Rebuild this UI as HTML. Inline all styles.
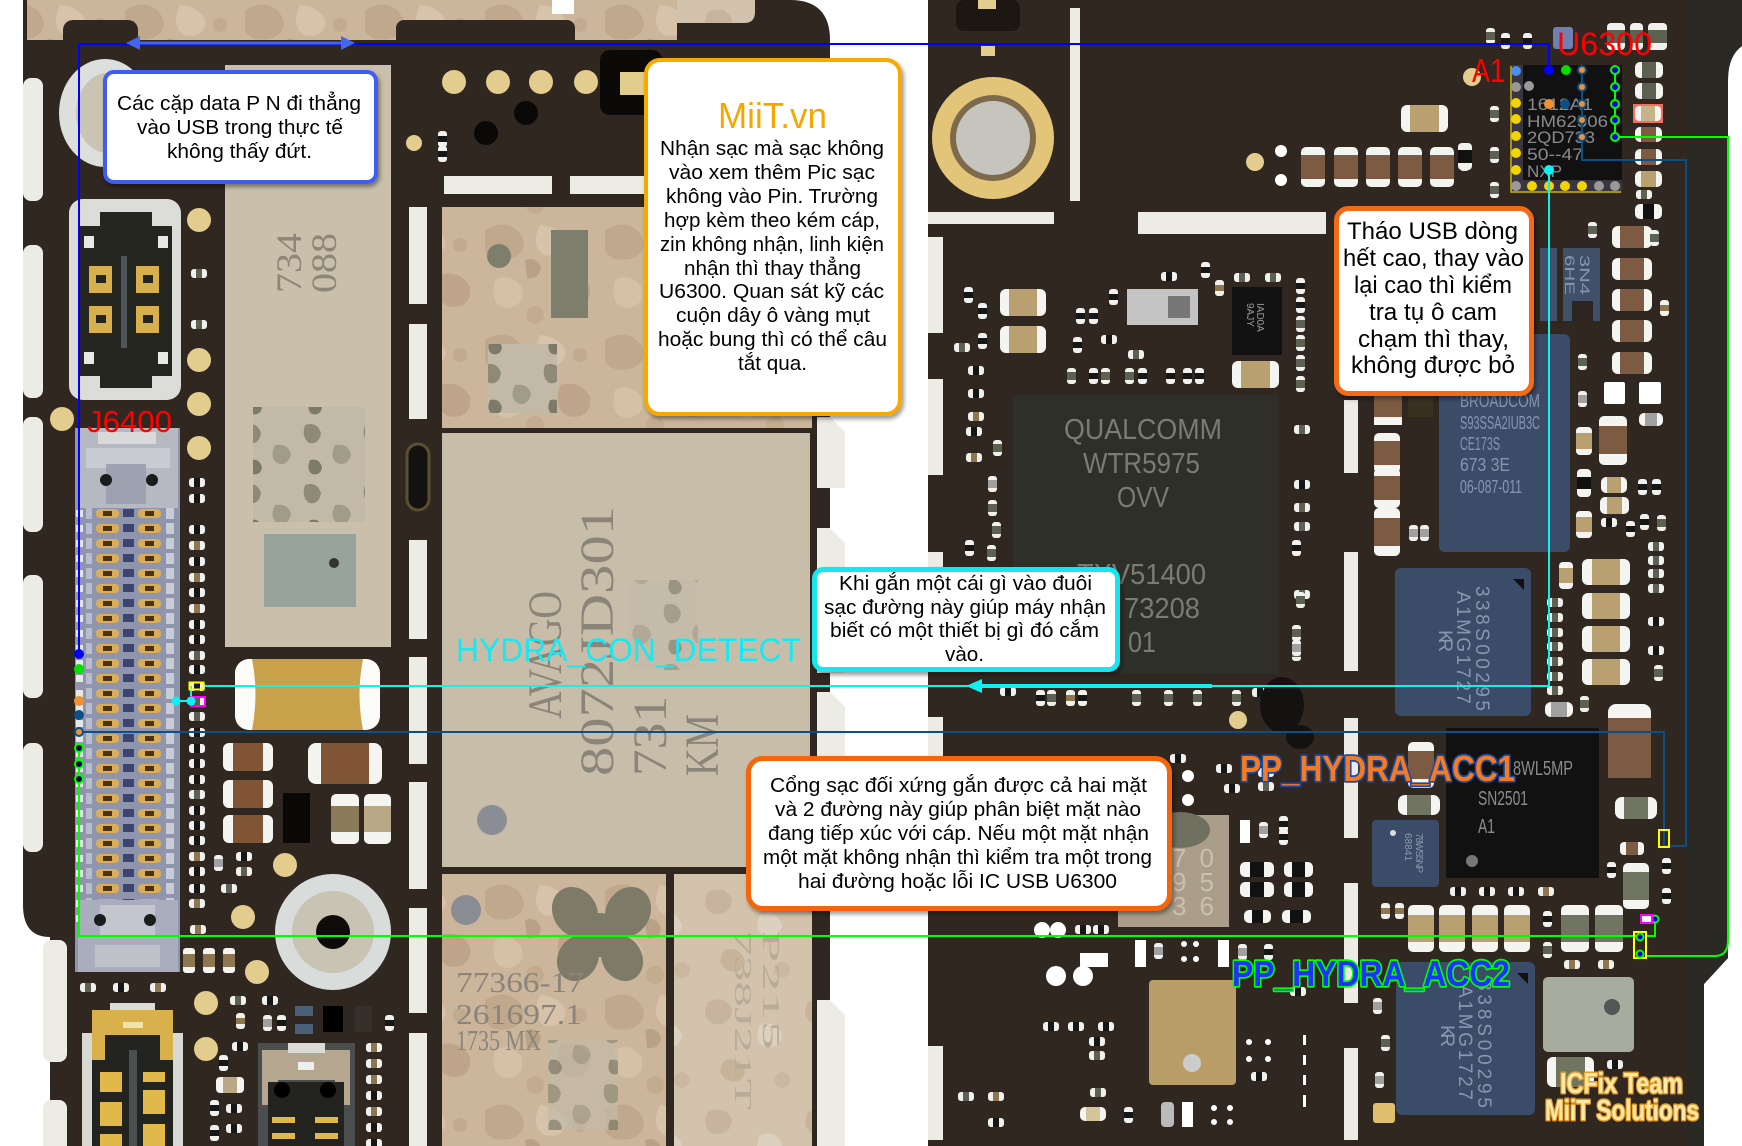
<!DOCTYPE html>
<html><head><meta charset="utf-8"><title>HYDRA USB</title>
<style>
html,body{margin:0;padding:0;background:#fff;width:1742px;height:1146px;overflow:hidden}
svg{display:block}
text{font-family:"Liberation Sans","DejaVu Sans",sans-serif}
.s{font-family:"Liberation Serif","DejaVu Serif",serif}
</style></head><body>
<svg xmlns="http://www.w3.org/2000/svg" width="1742" height="1146" viewBox="0 0 1742 1146">
<defs>
<filter id="sh" x="-10%" y="-10%" width="130%" height="130%"><feDropShadow dx="2" dy="3" stdDeviation="2" flood-color="#000" flood-opacity="0.4"/></filter>
<pattern id="camo" width="120" height="110" patternUnits="userSpaceOnUse">
<rect width="120" height="110" fill="#cbb69c"/>
<path d="M5 10q20-12 34 2q12 16-6 26q-22 6-28-8z" fill="#c0a88d"/>
<path d="M60 5q22 2 26 18q-4 16-22 12q-14-8-4-30z" fill="#d6c3aa"/>
<path d="M80 55q20-6 30 12q2 20-18 20q-20-4-12-32z" fill="#bea58a"/>
<path d="M15 60q14-8 26 6q6 18-12 22q-20 0-14-28z" fill="#d4c1a6"/>
<path d="M45 40q12-4 16 8q-2 12-14 10z" fill="#b9a186"/>
<circle cx="100" cy="25" r="7" fill="#c2aa8f"/><circle cx="55" cy="95" r="9" fill="#c3ab90"/>
</pattern>
<pattern id="camoL" width="100" height="110" patternUnits="userSpaceOnUse">
<rect width="100" height="110" fill="#d3c3ad"/>
<path d="M8 12q18-8 24 8q-2 16-18 14q-14-6-6-22z" fill="#c8b49c"/>
<path d="M60 35q16-6 22 10q-2 14-16 12q-14-6-6-22z" fill="#dcd0bf"/>
<path d="M25 70q16-4 20 12q-4 14-18 8q-12-8-2-20z" fill="#c7b29a"/>
<circle cx="82" cy="90" r="8" fill="#cbb8a0"/>
</pattern>
<pattern id="camoG" width="60" height="60" patternUnits="userSpaceOnUse">
<rect width="60" height="60" fill="#c2baa7"/>
<path d="M5 5q12-4 16 8q-2 12-12 10q-8-6-4-18z" fill="#8e8a76"/>
<path d="M35 25q14-2 16 10q-4 12-14 8q-8-6-2-18z" fill="#a19c88"/>
<path d="M10 40q10-2 12 8q-2 8-10 6q-6-4-2-14z" fill="#7c7a68"/>
</pattern>
<pattern id="beads" x="0" y="506" width="200" height="15" patternUnits="userSpaceOnUse">
<rect x="0" y="0" width="200" height="15" fill="#8f95ad"/>
<rect x="96" y="3" width="23" height="9" rx="4" fill="#d9ae57"/>
<rect x="103" y="5" width="9" height="5" fill="#4a3212"/>
<rect x="138" y="3" width="23" height="9" rx="4" fill="#d9ae57"/>
<rect x="145" y="5" width="9" height="5" fill="#4a3212"/>
<rect x="123" y="3" width="11" height="8" fill="#3e4470"/>
<rect x="76" y="4" width="7" height="7" fill="#e6e6e6"/>
<rect x="86" y="2" width="6" height="11" fill="#b8bccc"/>
<rect x="166" y="2" width="8" height="11" fill="#c8ccd6"/>
</pattern>
<g id="ph"><rect width="16" height="9" rx="3" fill="#f0f0ec"/><rect x="5" width="6" height="9" fill="#161616"/></g>
<g id="pht"><rect width="16" height="9" rx="3" fill="#f0f0ec"/><rect x="5" width="6" height="9" fill="#8d7650"/></g>
<g id="phg"><rect width="16" height="9" rx="3" fill="#f0f0ec"/><rect x="5" width="6" height="9" fill="#5d6152"/></g>
<g id="pv"><rect width="9" height="16" rx="3" fill="#f0f0ec"/><rect y="5" width="9" height="6" fill="#161616"/></g>
<g id="pvt"><rect width="9" height="16" rx="3" fill="#f0f0ec"/><rect y="5" width="9" height="6" fill="#8d7650"/></g>
<g id="pvg"><rect width="9" height="16" rx="3" fill="#f0f0ec"/><rect y="4" width="9" height="8" fill="#5d6152"/></g>
<g id="pvs"><rect width="9" height="16" rx="3" fill="#f0f0ec"/><rect y="4" width="9" height="8" fill="#a0a0a0"/></g>
<g id="cb"><rect width="40" height="22" rx="6" fill="#f4f4f0"/><rect x="8" width="24" height="22" fill="#7d5b43"/></g>
<g id="ct"><rect width="48" height="26" rx="6" fill="#f4f4f0"/><rect x="10" width="28" height="26" fill="#b9a070"/></g>
<g id="cbv"><rect width="24" height="40" rx="5" fill="#f4f4f0"/><rect y="8" width="24" height="24" fill="#7d5b43"/></g>
<g id="ctv"><rect width="24" height="40" rx="5" fill="#f4f4f0"/><rect y="8" width="24" height="24" fill="#b9a070"/></g>
<g id="cgv"><rect width="26" height="46" rx="5" fill="#f4f4f0"/><rect y="9" width="26" height="28" fill="#6f7560"/></g>
</defs>

<!-- ============ LEFT BOARD ============ -->
<path d="M23,0 H790 Q830,0 830,40 V1146 H50 V937 Q23,937 23,905 Z" fill="#2f2720"/>
<rect x="27" y="0" width="650" height="40" fill="url(#camo)"/>
<path d="M677,0 H755 V12 Q755,23 744,23 H677 Z" fill="url(#camoL)"/>
<rect x="63" y="20" width="75" height="30" rx="10" fill="#2f2720"/>
<rect x="396" y="20" width="179" height="30" rx="8" fill="#2f2720"/>
<rect x="552" y="0" width="22" height="14" fill="#fff"/>

<g fill="#ecebe4">
<rect x="23" y="78" width="20" height="123" rx="8"/>
<rect x="23" y="245" width="20" height="153" rx="8"/>
<rect x="23" y="417" width="20" height="115" rx="8"/>
<rect x="23" y="575" width="20" height="123" rx="8"/>
<rect x="23" y="743" width="20" height="109" rx="8"/>
<rect x="43" y="940" width="24" height="122" rx="8"/>
<rect x="43" y="1100" width="24" height="60" rx="8"/>
<path d="M817,417 H830 L845,432 V488 H817 Z"/>
<path d="M817,528 H830 L845,543 V673 H817 Z"/>
<path d="M817,692 H830 L845,707 V770 H817 Z"/>
<path d="M817,1000 H830 L845,1015 V1146 H817 Z"/>
</g>

<ellipse cx="105" cy="113" rx="46" ry="54" fill="#dcdfdc"/>
<ellipse cx="108" cy="113" rx="32" ry="40" fill="#c9c4b3"/>

<rect x="225" y="65" width="166" height="582" fill="#c9bfab"/>
<rect x="253" y="407" width="112" height="115" fill="url(#camoG)"/>
<text class="s" transform="translate(301,293) rotate(-90)" font-size="36" fill="#8e8677" textLength="60" lengthAdjust="spacingAndGlyphs">734</text>
<text class="s" transform="translate(336,293) rotate(-90)" font-size="36" fill="#8e8677" textLength="60" lengthAdjust="spacingAndGlyphs">088</text>
<rect x="264" y="534" width="92" height="73" fill="#98a49b"/>
<circle cx="334" cy="563" r="5" fill="#333"/>

<!-- battery connector -->
<rect x="69" y="199" width="112" height="201" rx="14" fill="#dcdcd8"/>
<rect x="80" y="226" width="92" height="150" fill="#262621"/>
<rect x="100" y="212" width="52" height="14" fill="#262621"/>
<rect x="100" y="376" width="52" height="12" fill="#262621"/>
<rect x="84" y="236" width="10" height="12" fill="#e8e8e6"/><rect x="158" y="236" width="10" height="12" fill="#e8e8e6"/>
<rect x="84" y="352" width="10" height="12" fill="#e8e8e6"/><rect x="158" y="352" width="10" height="12" fill="#e8e8e6"/>
<g fill="#d5b04c"><rect x="89" y="266" width="23" height="27"/><rect x="136" y="266" width="23" height="27"/><rect x="89" y="306" width="23" height="27"/><rect x="136" y="306" width="23" height="27"/></g>
<g fill="#262621"><rect x="96" y="275" width="10" height="8"/><rect x="143" y="275" width="10" height="8"/><rect x="96" y="315" width="10" height="8"/><rect x="143" y="315" width="10" height="8"/></g>
<rect x="121" y="256" width="6" height="92" fill="#4d5558"/>

<g fill="#e3cd8e">
<circle cx="199" cy="220" r="12"/><circle cx="199" cy="360" r="12"/><circle cx="199" cy="404" r="12"/><circle cx="199" cy="448" r="12"/><circle cx="62" cy="419" r="12"/>
<circle cx="454" cy="82" r="12"/><circle cx="498" cy="82" r="12"/><circle cx="541" cy="82" r="12"/><circle cx="586" cy="82" r="12"/>
<circle cx="414" cy="143" r="8"/>
<circle cx="285" cy="865" r="12"/><circle cx="243" cy="917" r="12"/><circle cx="257" cy="972" r="12"/><circle cx="206" cy="1003" r="12"/><circle cx="206" cy="1049" r="12"/>
</g>
<use href="#phg" x="191" y="269"/><use href="#phg" x="191" y="320"/>

<!-- J6400 connector -->
<rect x="75" y="428" width="105" height="544" fill="#8f95ad"/>
<rect x="75" y="506" width="105" height="420" fill="url(#beads)"/>
<rect x="78" y="428" width="100" height="80" fill="#b6b9c2"/>
<rect x="98" y="432" width="58" height="12" fill="#d9d9d9"/>
<rect x="86" y="448" width="84" height="20" fill="#c9cbd2"/>
<rect x="106" y="464" width="40" height="40" fill="#9ea2b0"/>
<circle cx="106" cy="480" r="6" fill="#1c1c1c"/><circle cx="152" cy="480" r="6" fill="#1c1c1c"/>
<rect x="78" y="900" width="100" height="72" fill="#a9adbd"/>
<rect x="100" y="905" width="55" height="30" fill="#c4c6cf"/>
<circle cx="100" cy="920" r="6" fill="#1c1c1c"/><circle cx="150" cy="920" r="6" fill="#1c1c1c"/>
<rect x="95" y="945" width="65" height="22" fill="#bfc1c9"/>

<!-- pills column right of connector -->
<use href="#ph" x="189" y="478"/><use href="#ph" x="189" y="494"/><use href="#ph" x="189" y="525"/><use href="#pht" x="189" y="541"/><use href="#ph" x="189" y="557"/><use href="#pht" x="189" y="573"/><use href="#ph" x="189" y="588"/><use href="#pht" x="189" y="604"/><use href="#ph" x="189" y="620"/><use href="#ph" x="189" y="635"/><use href="#phg" x="189" y="651"/><use href="#ph" x="189" y="665"/><use href="#ph" x="189" y="682"/><use href="#phg" x="189" y="697"/><use href="#phg" x="189" y="712"/><use href="#ph" x="189" y="728"/><use href="#ph" x="189" y="744"/><use href="#ph" x="189" y="759"/><use href="#ph" x="189" y="775"/><use href="#phg" x="189" y="790"/><use href="#ph" x="189" y="806"/><use href="#ph" x="189" y="821"/><use href="#ph" x="189" y="836"/><use href="#pht" x="189" y="852"/><use href="#ph" x="189" y="867"/><use href="#ph" x="189" y="884"/><use href="#pht" x="189" y="899"/>

<!-- white strips -->
<g fill="#ecebe4">
<rect x="409" y="207" width="18" height="97"/><rect x="409" y="324" width="18" height="95"/><rect x="409" y="540" width="18" height="99"/><rect x="409" y="657" width="18" height="107"/><rect x="409" y="782" width="18" height="107"/><rect x="409" y="908" width="18" height="105"/><rect x="409" y="1033" width="18" height="113"/>
<rect x="444" y="176" width="108" height="18"/><rect x="570" y="176" width="75" height="18"/>
</g>
<rect x="407" y="444" width="22" height="66" rx="11" fill="#141210" stroke="#5a5030" stroke-width="3"/>

<rect x="600" y="50" width="62" height="65" rx="10" fill="#0c0a08"/>
<rect x="620" y="72" width="25" height="23" fill="#e3cd8e"/>
<circle cx="526" cy="113" r="12" fill="#0a0908"/><circle cx="486" cy="133" r="12" fill="#0a0908"/>
<use href="#pv" x="438" y="131"/><use href="#pv" x="438" y="146"/>

<!-- camo chip & AVAGO -->
<rect x="442" y="207" width="370" height="221" fill="url(#camo)"/>
<rect x="551" y="230" width="37" height="88" fill="#7d7f6c"/>
<circle cx="499" cy="256" r="12" fill="#7d7f6c"/>
<rect x="488" y="344" width="69" height="69" fill="url(#camoG)"/>
<rect x="442" y="433" width="368" height="434" fill="#c8bda9"/>
<g class="s" fill="#8b8579" font-size="48">
<text class="s" transform="translate(561,719) rotate(-90)" textLength="128" lengthAdjust="spacingAndGlyphs">AVAGO</text>
<text class="s" transform="translate(613,776) rotate(-90)" textLength="270" lengthAdjust="spacingAndGlyphs">8072JD301</text>
<text class="s" transform="translate(666,776) rotate(-90)" textLength="80" lengthAdjust="spacingAndGlyphs">731</text>
<text class="s" transform="translate(718,776) rotate(-90)" textLength="62" lengthAdjust="spacingAndGlyphs">KM</text>
</g>
<rect x="628" y="580" width="70" height="90" fill="url(#camoG)" opacity="0.6"/>
<circle cx="492" cy="820" r="15" fill="#8b8d95"/>

<!-- lower chips -->
<rect x="442" y="874" width="224" height="272" fill="url(#camo)"/>
<rect x="674" y="874" width="138" height="272" fill="url(#camoL)"/>
<g fill="#7d7a68">
<ellipse cx="575" cy="912" rx="22" ry="26" transform="rotate(-30 575 912)"/>
<ellipse cx="628" cy="912" rx="22" ry="26" transform="rotate(30 628 912)"/>
<ellipse cx="578" cy="958" rx="20" ry="24" transform="rotate(30 578 958)"/>
<ellipse cx="622" cy="958" rx="20" ry="24" transform="rotate(-30 622 958)"/>
<ellipse cx="600" cy="935" rx="20" ry="22"/>
</g>
<circle cx="466" cy="910" r="15" fill="#8b8d95"/>
<rect x="548" y="1040" width="70" height="90" fill="url(#camoG)" opacity="0.7"/>
<g class="s" fill="#8a857a" font-size="28">
<text class="s" x="456" y="992" textLength="128" lengthAdjust="spacingAndGlyphs">77366-17</text>
<text class="s" x="456" y="1024" textLength="126" lengthAdjust="spacingAndGlyphs">261697.1</text>
<text class="s" x="456" y="1050" textLength="85" lengthAdjust="spacingAndGlyphs">1735  MX</text>
</g>
<g class="s" fill="#b8ac98" font-size="24">
<text class="s" transform="translate(763,930) rotate(90)" textLength="120" lengthAdjust="spacingAndGlyphs">P215</text>
<text class="s" transform="translate(735,930) rotate(90)" textLength="180" lengthAdjust="spacingAndGlyphs">738J21T</text>
</g>

<!-- caps near gold cap -->
<rect x="235" y="659" width="145" height="71" rx="14" fill="#fbfbf8"/>
<path d="M252,659 H363 Q356,694 363,730 H252 Q259,694 252,659Z" fill="#c9a14b"/>
<g><rect x="223" y="743" width="50" height="28" rx="6" fill="#f4f4f0"/><rect x="233" y="743" width="30" height="28" fill="#7f5536"/></g>
<g><rect x="223" y="780" width="50" height="28" rx="6" fill="#f4f4f0"/><rect x="233" y="780" width="30" height="28" fill="#7f5536"/></g>
<g><rect x="223" y="815" width="50" height="28" rx="6" fill="#f4f4f0"/><rect x="233" y="815" width="30" height="28" fill="#7f5536"/></g>
<g><rect x="308" y="743" width="74" height="41" rx="8" fill="#f4f4f0"/><rect x="321" y="743" width="48" height="41" fill="#7f5536"/></g>
<rect x="283" y="793" width="27" height="50" fill="#0a0806"/>
<g><rect x="331" y="794" width="28" height="50" rx="5" fill="#f4f4f0"/><rect x="331" y="806" width="28" height="26" fill="#8a7a5a"/></g>
<g><rect x="364" y="794" width="27" height="50" rx="5" fill="#f4f4f0"/><rect x="364" y="806" width="27" height="26" fill="#b9a885"/></g>
<use href="#pvs" x="214" y="855"/><use href="#ph" x="236" y="852"/><use href="#phg" x="236" y="867"/>
<use href="#phg" x="221" y="884"/><use href="#pht" x="190" y="925"/>

<!-- round -->
<circle cx="333" cy="932" r="58" fill="#d8dcda"/>
<circle cx="333" cy="932" r="41" fill="#c8c3b3"/>
<circle cx="333" cy="932" r="17" fill="#0d0c0a"/>

<!-- bottom-left parts -->
<g><rect x="183" y="948" width="12" height="25" rx="3" fill="#f4f4f0"/><rect x="183" y="954" width="12" height="13" fill="#8d7650"/></g>
<g><rect x="203" y="948" width="12" height="25" rx="3" fill="#f4f4f0"/><rect x="203" y="954" width="12" height="13" fill="#8d7650"/></g>
<g><rect x="223" y="948" width="12" height="25" rx="3" fill="#f4f4f0"/><rect x="223" y="954" width="12" height="13" fill="#8d7650"/></g>
<use href="#phg" x="80" y="983"/><use href="#ph" x="113" y="983"/><use href="#pht" x="150" y="983"/>
<use href="#phg" x="230" y="996"/><use href="#ph" x="262" y="996"/>
<use href="#pvt" x="236" y="1013"/><use href="#pvs" x="263" y="1015"/><use href="#pv" x="277" y="1015"/>
<rect x="295" y="1006" width="18" height="10" fill="#4a6278"/><rect x="295" y="1024" width="18" height="10" fill="#4a6278"/>
<rect x="323" y="1006" width="20" height="26" fill="#000"/><rect x="355" y="1006" width="17" height="26" fill="#35302a"/>
<use href="#pv" x="385" y="1015"/>
<use href="#ph" x="232" y="1042"/><use href="#pv" x="219" y="1055"/>
<g><rect x="216" y="1077" width="28" height="16" rx="4" fill="#f4f4f0"/><rect x="223" y="1077" width="14" height="16" fill="#b9a885"/></g>
<use href="#pv" x="210" y="1100"/><use href="#ph" x="226" y="1104"/><use href="#ph" x="226" y="1124"/><use href="#pv" x="210" y="1125"/>
<use href="#pht" x="366" y="1043"/><use href="#pht" x="366" y="1059"/><use href="#pht" x="366" y="1075"/><use href="#ph" x="366" y="1091"/><use href="#pht" x="366" y="1107"/><use href="#ph" x="366" y="1123"/><use href="#ph" x="366" y="1139"/>
<!-- connector 1 -->
<rect x="82" y="1033" width="101" height="113" fill="#d9d9d4"/>
<path d="M92,1015 H173 V1146 H92 Z" fill="#23231f"/>
<path d="M92,1010 H173 V1060 H160 V1035 H105 V1060 H92 Z" fill="#d8b04c"/>
<rect x="110" y="1003" width="45" height="7" fill="#dcdcd6"/>
<rect x="123" y="1022" width="20" height="6" fill="#f0e3a8"/>
<rect x="129" y="1050" width="8" height="96" fill="#4a5052"/>
<g fill="#e1b84a"><rect x="100" y="1072" width="22" height="20"/><rect x="100" y="1102" width="22" height="24"/><rect x="143" y="1072" width="22" height="10"/><rect x="143" y="1090" width="22" height="24"/><rect x="143" y="1124" width="22" height="22"/><rect x="100" y="1134" width="22" height="12"/></g>
<!-- connector 2 -->
<path d="M258,1043 H355 V1146 H258 Z" fill="#4a4e4e"/>
<path d="M262,1050 H350 V1105 H335 V1080 H278 V1105 H262 Z" fill="#b5a690"/>
<rect x="288" y="1043" width="37" height="10" fill="#dcdcd6"/>
<rect x="298" y="1062" width="16" height="8" fill="#eee"/>
<rect x="268" y="1082" width="76" height="64" fill="#23231f"/>
<circle cx="282" cy="1090" r="8" fill="#000"/><circle cx="328" cy="1090" r="8" fill="#000"/>
<g fill="#e1b84a"><rect x="272" y="1117" width="23" height="6"/><rect x="315" y="1117" width="23" height="6"/><rect x="272" y="1133" width="23" height="6"/><rect x="315" y="1133" width="23" height="6"/></g>

<!-- ============ RIGHT BOARD ============ -->
<path d="M928,0 H1742 V46 Q1728,56 1728,80 V958 L1704,984 V1146 H928 Z" fill="#2f2720"/>
<path d="M1688,0 H1742 V46 Q1728,56 1728,80 V958 L1704,984 V1146 H1688 Z" fill="#2a2924"/>
<g fill="#ecebe4">
<rect x="928" y="237" width="15" height="96"/><rect x="928" y="379" width="15" height="96"/><rect x="928" y="552" width="15" height="118"/><rect x="928" y="717" width="15" height="143"/><rect x="928" y="1046" width="15" height="94"/>
<rect x="1344" y="400" width="14" height="73"/><rect x="1344" y="552" width="14" height="119"/><rect x="1344" y="718" width="14" height="120"/><rect x="1344" y="883" width="14" height="120"/><rect x="1344" y="1048" width="14" height="92"/>
<rect x="1070" y="8" width="10" height="193"/>
<rect x="928" y="212" width="126" height="12"/><rect x="1138" y="212" width="188" height="22"/>
</g>
<rect x="956" y="0" width="64" height="31" rx="8" fill="#1d1712"/>
<rect x="978" y="0" width="18" height="9" fill="#e3cd8e"/>
<rect x="981" y="46" width="14" height="10" fill="#e3cd8e"/>
<circle cx="993" cy="138" r="61" fill="#e2c579"/>
<circle cx="993" cy="138" r="43" fill="#7d6a4c"/>
<circle cx="993" cy="138" r="37" fill="#c6c5bd"/>

<!-- cap row near top -->
<use href="#cbv" x="1301" y="147"/><use href="#cbv" x="1334" y="147"/><use href="#cbv" x="1366" y="147"/><use href="#cbv" x="1398" y="147"/><use href="#cbv" x="1430" y="147"/>
<rect x="1401" y="105" width="47" height="27" rx="6" fill="#f4f4f0"/><rect x="1410" y="105" width="29" height="27" fill="#b9a070"/>
<circle cx="1255" cy="162" r="9" fill="#e3cd8e"/>
<circle cx="1281" cy="151" r="6" fill="#fff"/><circle cx="1281" cy="180" r="6" fill="#fff"/>
<use href="#pv" x="1460" y="144"/><use href="#pv" x="1460" y="155"/>
<use href="#pvg" x="1490" y="106"/><use href="#pvg" x="1490" y="147"/><use href="#pvg" x="1490" y="182"/>
<use href="#pvg" x="1486" y="28"/><use href="#pv" x="1501" y="33"/><use href="#pv" x="1523" y="33"/>
<rect x="1553" y="27" width="20" height="22" rx="3" fill="#7080b0"/>
<rect x="1607" y="23" width="18" height="27" rx="4" fill="#f0f0ec"/><rect x="1607" y="30" width="18" height="13" fill="#5d6152"/>
<rect x="1630" y="23" width="13" height="27" rx="4" fill="#f0f0ec"/><rect x="1630" y="30" width="13" height="13" fill="#5d6152"/>
<rect x="1648" y="23" width="19" height="27" rx="4" fill="#f0f0ec"/><rect x="1648" y="30" width="19" height="13" fill="#5d6152"/>
<circle cx="1472" cy="77" r="9" fill="#e3cd8e"/>
<rect x="1458" y="143" width="14" height="27" rx="4" fill="#f0f0ec"/><rect x="1458" y="150" width="14" height="13" fill="#111"/>

<!-- U6300 right column -->
<g><rect x="1635" y="62" width="28" height="16" rx="5" fill="#f4f4f0"/><rect x="1642" y="62" width="14" height="16" fill="#5d6152"/></g>
<g><rect x="1635" y="83" width="28" height="16" rx="5" fill="#f4f4f0"/><rect x="1642" y="83" width="14" height="16" fill="#5d6152"/></g>
<rect x="1633" y="104" width="30" height="19" fill="#f07060"/><rect x="1635" y="106" width="26" height="15" rx="4" fill="#f4f4f0"/><rect x="1641" y="106" width="14" height="15" fill="#c7b38a"/>
<g><rect x="1635" y="127" width="27" height="15" rx="5" fill="#f4f4f0"/><rect x="1641" y="127" width="15" height="15" fill="#7d5b43"/></g>
<g><rect x="1635" y="149" width="27" height="16" rx="5" fill="#f4f4f0"/><rect x="1641" y="149" width="15" height="16" fill="#7d5b43"/></g>
<g><rect x="1635" y="171" width="27" height="16" rx="5" fill="#f4f4f0"/><rect x="1641" y="171" width="15" height="16" fill="#b9a070"/></g>
<use href="#phg" x="1636" y="190"/>
<g><rect x="1635" y="204" width="27" height="15" rx="5" fill="#f4f4f0"/><rect x="1643" y="204" width="11" height="15" fill="#111"/></g>
<use href="#pvg" x="1588" y="222"/>

<!-- U6300 chip -->
<rect x="1510" y="65" width="112" height="128" fill="#111"/>
<rect x="1510" y="65" width="13" height="128" fill="#3a3540"/>
<rect x="1510" y="180" width="112" height="13" fill="#3a3540"/>
<path d="M1511,66 V192 H1621" fill="none" stroke="#c8b400" stroke-width="1.5"/>
<g fill="#f2d400">
<circle cx="1516" cy="103" r="5"/><circle cx="1516" cy="119" r="5"/><circle cx="1516" cy="136" r="5"/><circle cx="1516" cy="153" r="5"/><circle cx="1516" cy="170" r="5"/>
<circle cx="1532" cy="186" r="5"/><circle cx="1549" cy="186" r="5"/><circle cx="1565" cy="186" r="5"/><circle cx="1582" cy="186" r="5"/>
</g>
<g fill="#999"><circle cx="1516" cy="87" r="5"/><circle cx="1516" cy="186" r="5"/><circle cx="1599" cy="186" r="5"/><circle cx="1615" cy="186" r="5"/><circle cx="1529" cy="86" r="5"/></g>
<circle cx="1516" cy="71" r="5" fill="#4d8ef0"/>
<g fill="#8a8a8a" font-size="17">
<text x="1527" y="110" textLength="66" lengthAdjust="spacingAndGlyphs">1612A1</text>
<text x="1527" y="127" textLength="81" lengthAdjust="spacingAndGlyphs">HM62506</text>
<text x="1527" y="143" textLength="68" lengthAdjust="spacingAndGlyphs">2QD733</text>
<text x="1527" y="160" textLength="56" lengthAdjust="spacingAndGlyphs">50--47</text>
<text x="1527" y="177" textLength="35" lengthAdjust="spacingAndGlyphs">NXP</text>
</g>

<!-- blue chips -->
<rect x="1540" y="248" width="17" height="73" fill="#3f5068"/>
<rect x="1563" y="248" width="37" height="73" fill="#3f5068"/>
<rect x="1572" y="301" width="21" height="20" fill="#2b2420"/>
<text transform="translate(1580,255) rotate(90)" font-size="14" fill="#8795b0" textLength="40" lengthAdjust="spacingAndGlyphs">3N4</text>
<text transform="translate(1565,255) rotate(90)" font-size="14" fill="#8795b0" textLength="40" lengthAdjust="spacingAndGlyphs">6HE</text>
<rect x="1439" y="334" width="131" height="218" rx="6" fill="#3b4c69"/>
<g fill="#8795b0" font-size="18">
<text x="1460" y="407" textLength="80" lengthAdjust="spacingAndGlyphs">BROADCOM</text>
<text x="1460" y="429" textLength="80" lengthAdjust="spacingAndGlyphs">S93SSA2IUB3C</text>
<text x="1460" y="450" textLength="40" lengthAdjust="spacingAndGlyphs">CE173S</text>
<text x="1460" y="471" textLength="50" lengthAdjust="spacingAndGlyphs">673   3E</text>
<text x="1460" y="493" textLength="62" lengthAdjust="spacingAndGlyphs">06-087-011</text>
</g>
<rect x="1395" y="568" width="136" height="148" rx="6" fill="#3b4c69"/>
<path d="M1513,579 L1524,579 L1524,590 Z" fill="#111"/>
<g fill="#8a96ae" font-size="19">
<text transform="translate(1476,586) rotate(90)" textLength="125" lengthAdjust="spacing">338S00295</text>
<text transform="translate(1457,591) rotate(90)" textLength="113" lengthAdjust="spacing">A1MG1727</text>
<text transform="translate(1439,630) rotate(90)" textLength="22" lengthAdjust="spacing">KR</text>
</g>
<rect x="1396" y="962" width="139" height="153" rx="6" fill="#3b4c69"/>
<path d="M1517,973 L1528,973 L1528,984 Z" fill="#111"/>
<g fill="#8a96ae" font-size="19">
<text transform="translate(1478,980) rotate(90)" textLength="128" lengthAdjust="spacing">338S00295</text>
<text transform="translate(1459,985) rotate(90)" textLength="115" lengthAdjust="spacing">A1MG1727</text>
<text transform="translate(1441,1025) rotate(90)" textLength="22" lengthAdjust="spacing">KR</text>
</g>
<rect x="1372" y="820" width="67" height="67" rx="4" fill="#3b4c69"/>
<circle cx="1393" cy="833" r="3" fill="#ddd"/>
<g fill="#8a96ae" font-size="10">
<text transform="translate(1416,833) rotate(90)" textLength="40" lengthAdjust="spacing">78WS5NP</text>
<text transform="translate(1405,833) rotate(90)" textLength="28" lengthAdjust="spacing">68841</text>
</g>

<!-- Qualcomm -->
<rect x="1013" y="395" width="265" height="278" fill="#2f2f29"/>
<g fill="#7b7b74" font-size="29">
<text x="1064" y="439" textLength="158" lengthAdjust="spacingAndGlyphs">QUALCOMM</text>
<text x="1083" y="473" textLength="117" lengthAdjust="spacingAndGlyphs">WTR5975</text>
<text x="1117" y="507" textLength="52" lengthAdjust="spacingAndGlyphs">OVV</text>
<text x="1077" y="584" textLength="129" lengthAdjust="spacingAndGlyphs">TXV51400</text>
<text x="1124" y="618" textLength="76" lengthAdjust="spacingAndGlyphs">73208</text>
<text x="1128" y="652" textLength="28" lengthAdjust="spacingAndGlyphs">01</text>
</g>
<g><rect x="1000" y="289" width="46" height="27" rx="6" fill="#f4f4f0"/><rect x="1009" y="289" width="28" height="27" fill="#b9a070"/></g>
<g><rect x="1000" y="326" width="46" height="27" rx="6" fill="#f4f4f0"/><rect x="1009" y="326" width="28" height="27" fill="#b9a070"/></g>
<rect x="1127" y="289" width="71" height="36" fill="#c4c4c4"/><rect x="1168" y="296" width="22" height="22" fill="#777"/>
<rect x="1232" y="287" width="50" height="68" fill="#121212"/>
<g fill="#9a9a9a" font-size="10"><text transform="translate(1257,303) rotate(90)">IAD0A</text><text transform="translate(1247,303) rotate(90)">9AJY</text></g>
<g><rect x="1232" y="361" width="47" height="27" rx="6" fill="#f4f4f0"/><rect x="1241" y="361" width="29" height="27" fill="#b9a070"/></g>
<use href="#pv" x="964" y="287"/><use href="#pv" x="978" y="303"/><use href="#phg" x="954" y="343"/><use href="#pv" x="978" y="333"/><use href="#ph" x="968" y="366"/><use href="#ph" x="968" y="389"/><use href="#pht" x="968" y="412"/>
<use href="#pv" x="1076" y="308"/><use href="#pv" x="1089" y="308"/><use href="#pv" x="1109" y="289"/><use href="#pv" x="1073" y="337"/><use href="#ph" x="1101" y="335"/><use href="#phg" x="1128" y="350"/>
<use href="#pvg" x="1067" y="368"/><use href="#pv" x="1089" y="368"/><use href="#pvg" x="1101" y="368"/><use href="#pvg" x="1125" y="368"/><use href="#pv" x="1138" y="368"/><use href="#pv" x="1166" y="368"/><use href="#pv" x="1183" y="368"/><use href="#pv" x="1195" y="368"/>
<use href="#ph" x="1161" y="272"/><use href="#pv" x="1201" y="262"/><use href="#pvt" x="1215" y="280"/><use href="#phg" x="1234" y="273"/><use href="#phg" x="1265" y="273"/>
<use href="#pv" x="1296" y="278"/><use href="#pv" x="1296" y="297"/><use href="#pvg" x="1296" y="316"/><use href="#pvg" x="1296" y="335"/><use href="#pvg" x="1296" y="355"/><use href="#pvg" x="1296" y="376"/>
<use href="#ph" x="966" y="427"/><use href="#pht" x="966" y="453"/><use href="#pvg" x="993" y="440"/><use href="#pvs" x="988" y="476"/><use href="#pvg" x="988" y="500"/><use href="#pvg" x="992" y="522"/><use href="#pv" x="965" y="540"/><use href="#pvg" x="987" y="545"/>
<use href="#phg" x="1294" y="425"/><use href="#ph" x="1294" y="480"/><use href="#phg" x="1294" y="503"/><use href="#phg" x="1294" y="522"/><use href="#pv" x="1292" y="540"/><use href="#phg" x="1294" y="590"/><use href="#pvg" x="1292" y="625"/><use href="#pvg" x="1292" y="645"/>
<g><rect x="1374" y="433" width="26" height="40" rx="5" fill="#f4f4f0"/><rect x="1374" y="441" width="26" height="24" fill="#7d5b43"/></g>
<g><rect x="1374" y="468" width="26" height="40" rx="5" fill="#f4f4f0"/><rect x="1374" y="476" width="26" height="24" fill="#7d5b43"/></g>
<g><rect x="1374" y="508" width="26" height="48" rx="5" fill="#f4f4f0"/><rect x="1374" y="518" width="26" height="28" fill="#7d5b43"/></g>
<rect x="1374" y="385" width="28" height="40" fill="#f4f4f0"/><rect x="1374" y="393" width="28" height="24" fill="#7d5b43"/>
<rect x="1408" y="395" width="25" height="22" fill="#3a3020"/>
<use href="#pvs" x="1409" y="525"/><use href="#pvs" x="1420" y="525"/>

<!-- right caps column -->
<use href="#cb" x="1612" y="226"/><use href="#cb" x="1612" y="258"/><use href="#cb" x="1612" y="289"/><use href="#cb" x="1612" y="320"/><use href="#cb" x="1612" y="352"/>
<rect x="1604" y="382" width="21" height="22" rx="2" fill="#fff"/><rect x="1639" y="382" width="22" height="22" rx="2" fill="#fff"/>
<g><rect x="1639" y="413" width="24" height="13" rx="5" fill="#f4f4f0"/><rect x="1645" y="413" width="12" height="13" fill="#a0a0a0"/></g>
<g><rect x="1599" y="416" width="28" height="49" rx="5" fill="#f4f4f0"/><rect x="1599" y="426" width="28" height="28" fill="#7d5b43"/></g>
<use href="#pvg" x="1578" y="354"/><use href="#pvs" x="1578" y="391"/>
<g><rect x="1576" y="427" width="16" height="28" rx="4" fill="#f4f4f0"/><rect x="1576" y="433" width="16" height="16" fill="#b9a070"/></g>
<g><rect x="1577" y="469" width="14" height="28" rx="4" fill="#f4f4f0"/><rect x="1577" y="477" width="14" height="12" fill="#111"/></g>
<g><rect x="1601" y="477" width="26" height="16" rx="5" fill="#f4f4f0"/><rect x="1607" y="477" width="14" height="16" fill="#b9a070"/></g>
<g><rect x="1600" y="497" width="29" height="17" rx="5" fill="#f4f4f0"/><rect x="1607" y="497" width="15" height="17" fill="#b9a070"/></g>
<g><rect x="1576" y="511" width="16" height="27" rx="4" fill="#f4f4f0"/><rect x="1576" y="517" width="16" height="15" fill="#b9a070"/></g>
<use href="#ph" x="1601" y="518"/><use href="#pv" x="1626" y="521"/><use href="#pv" x="1638" y="479"/><use href="#pv" x="1652" y="479"/><use href="#pv" x="1640" y="514"/><use href="#pvg" x="1657" y="515"/>
<use href="#phg" x="1648" y="542"/><use href="#phg" x="1648" y="556"/><use href="#phg" x="1648" y="569"/><use href="#phg" x="1648" y="584"/>
<use href="#ct" x="1582" y="559"/><use href="#ct" x="1582" y="593"/><use href="#ct" x="1582" y="626"/><use href="#ct" x="1582" y="659"/>
<g><rect x="1559" y="562" width="14" height="27" rx="4" fill="#f4f4f0"/><rect x="1559" y="568" width="14" height="15" fill="#b9a070"/></g>
<use href="#phg" x="1547" y="598"/><use href="#phg" x="1547" y="613"/><use href="#phg" x="1547" y="628"/><use href="#phg" x="1547" y="642"/><use href="#phg" x="1547" y="657"/><use href="#phg" x="1547" y="672"/><use href="#phg" x="1547" y="686"/>
<use href="#ph" x="1648" y="617"/><use href="#ph" x="1648" y="646"/><use href="#pvg" x="1654" y="665"/>
<g><rect x="1545" y="702" width="28" height="15" rx="6" fill="#f4f4f0"/><rect x="1551" y="702" width="16" height="15" fill="#a0a0a0"/></g>
<use href="#pvg" x="1580" y="696"/>
<g><rect x="1608" y="704" width="43" height="74" rx="8" fill="#f4f4f0"/><rect x="1608" y="718" width="43" height="60" fill="#7d5b43"/></g>
<use href="#pvg" x="1650" y="230"/><use href="#pvt" x="1660" y="300"/>

<!-- 8WL5MP -->
<rect x="1446" y="728" width="153" height="150" fill="#111"/>
<g fill="#8c8c8c" font-size="20">
<text x="1513" y="775" textLength="60" lengthAdjust="spacingAndGlyphs">8WL5MP</text>
<text x="1478" y="805" textLength="50" lengthAdjust="spacingAndGlyphs">SN2501</text>
<text x="1478" y="833" textLength="17" lengthAdjust="spacingAndGlyphs">A1</text>
</g>
<circle cx="1472" cy="861" r="6" fill="#777"/>
<g><rect x="1615" y="797" width="42" height="22" rx="7" fill="#f4f4f0"/><rect x="1624" y="797" width="24" height="22" fill="#6f7560"/></g>
<g><rect x="1620" y="842" width="24" height="13" rx="4" fill="#f4f4f0"/><rect x="1626" y="842" width="12" height="13" fill="#7d5b43"/></g>
<use href="#pv" x="1607" y="862"/><use href="#cgv" x="1623" y="863"/><use href="#pv" x="1662" y="858"/><use href="#pv" x="1662" y="888"/>
<g><rect x="1408" y="742" width="26" height="46" rx="5" fill="#f4f4f0"/><rect x="1408" y="751" width="26" height="28" fill="#7d5b43"/></g>
<g><rect x="1398" y="795" width="42" height="20" rx="7" fill="#f4f4f0"/><rect x="1407" y="795" width="24" height="20" fill="#6f7560"/></g>

<!-- middle right misc -->
<rect x="1118" y="815" width="111" height="112" fill="#aa9e8a"/>
<ellipse cx="1180" cy="830" rx="30" ry="18" fill="#6f705f"/>
<g fill="#c9c0ae" font-size="26" font-family="Liberation Mono,monospace">
<text x="1172" y="867" textLength="42" lengthAdjust="spacing">70</text>
<text x="1172" y="891" textLength="42" lengthAdjust="spacing">95</text>
<text x="1172" y="915" textLength="42" lengthAdjust="spacing">36</text>
</g>
<use href="#ph" x="1216" y="764"/><use href="#ph" x="1224" y="784"/><use href="#phg" x="1258" y="768"/><use href="#phg" x="1258" y="782"/><use href="#ph" x="1170" y="754"/>
<circle cx="1188" cy="776" r="6" fill="#fff"/><circle cx="1188" cy="800" r="6" fill="#fff"/>
<rect x="1240" y="820" width="10" height="23" fill="#fff"/><use href="#pvs" x="1259" y="822"/><use href="#pv" x="1279" y="816"/><use href="#pv" x="1279" y="829"/>
<g fill="#f4f4f0"><rect x="1240" y="862" width="34" height="15" rx="5"/><rect x="1284" y="862" width="29" height="15" rx="5"/><rect x="1240" y="882" width="34" height="15" rx="5"/><rect x="1284" y="882" width="29" height="15" rx="5"/><rect x="1244" y="910" width="27" height="13" rx="5"/><rect x="1282" y="910" width="29" height="13" rx="5"/></g>
<g fill="#111"><rect x="1250" y="862" width="14" height="15"/><rect x="1292" y="862" width="13" height="15"/><rect x="1250" y="882" width="14" height="15"/><rect x="1292" y="882" width="13" height="15"/><rect x="1252" y="910" width="11" height="13"/><rect x="1290" y="910" width="13" height="13"/></g>
<circle cx="1042" cy="930" r="8" fill="#fff"/><circle cx="1058" cy="930" r="8" fill="#fff"/><use href="#ph" x="1075" y="925"/><use href="#ph" x="1093" y="925"/>
<rect x="1135" y="940" width="11" height="27" fill="#fff"/><use href="#pvs" x="1154" y="943"/>
<g fill="#fff"><circle cx="1184" cy="944" r="3"/><circle cx="1196" cy="944" r="3"/><circle cx="1184" cy="959" r="3"/><circle cx="1196" cy="959" r="3"/></g>
<rect x="1218" y="940" width="11" height="27" fill="#fff"/><use href="#pvs" x="1238" y="944"/><use href="#pv" x="1264" y="944"/>
<rect x="1080" y="953" width="28" height="14" fill="#fff"/>
<circle cx="1056" cy="976" r="10" fill="#fff"/><circle cx="1083" cy="976" r="10" fill="#fff"/>
<use href="#ph" x="1290" y="987"/>
<use href="#ph" x="1043" y="1022"/><use href="#ph" x="1068" y="1022"/><use href="#ph" x="1098" y="1022"/><use href="#ph" x="1089" y="1037"/><use href="#phg" x="1089" y="1051"/>
<g fill="#fff"><circle cx="1249" cy="1042" r="3"/><circle cx="1268" cy="1042" r="3"/><circle cx="1249" cy="1059" r="3"/><circle cx="1268" cy="1059" r="3"/></g>
<use href="#ph" x="1251" y="1072"/>
<g fill="#fff"><rect x="1303" y="1035" width="3" height="10"/><rect x="1303" y="1055" width="3" height="10"/><rect x="1303" y="1075" width="3" height="10"/><rect x="1303" y="1095" width="3" height="12"/></g>
<rect x="1149" y="980" width="87" height="105" rx="4" fill="#b99d67"/><circle cx="1192" cy="1063" r="9" fill="#ccc"/>
<use href="#phg" x="958" y="1092"/><use href="#pht" x="988" y="1092"/><use href="#ph" x="988" y="1118"/><use href="#phg" x="1090" y="1088"/>
<g><rect x="1080" y="1107" width="26" height="14" rx="5" fill="#f4f4f0"/><rect x="1086" y="1107" width="14" height="14" fill="#d3c59a"/></g>
<use href="#pv" x="1124" y="1107"/><rect x="1161" y="1102" width="13" height="25" rx="4" fill="#bbb"/><rect x="1182" y="1102" width="11" height="25" fill="#fff"/>
<g fill="#fff"><circle cx="1214" cy="1108" r="3"/><circle cx="1230" cy="1108" r="3"/><circle cx="1214" cy="1122" r="3"/><circle cx="1230" cy="1122" r="3"/></g>
<use href="#pvs" x="1373" y="998"/><use href="#pvg" x="1381" y="1035"/><use href="#pvs" x="1375" y="1072"/><rect x="1373" y="1103" width="22" height="20" rx="3" fill="#e0c070"/>
<g><rect x="1408" y="905" width="26" height="47" rx="5" fill="#f4f4f0"/><rect x="1408" y="915" width="26" height="27" fill="#b9a070"/></g>
<g><rect x="1439" y="905" width="26" height="47" rx="5" fill="#f4f4f0"/><rect x="1439" y="915" width="26" height="27" fill="#b9a070"/></g>
<g><rect x="1472" y="905" width="26" height="47" rx="5" fill="#f4f4f0"/><rect x="1472" y="915" width="26" height="27" fill="#b9a070"/></g>
<g><rect x="1504" y="905" width="26" height="47" rx="5" fill="#f4f4f0"/><rect x="1504" y="915" width="26" height="27" fill="#b9a070"/></g>
<g><rect x="1561" y="905" width="28" height="47" rx="5" fill="#f4f4f0"/><rect x="1561" y="915" width="28" height="27" fill="#6f7560"/></g>
<g><rect x="1595" y="905" width="28" height="47" rx="5" fill="#f4f4f0"/><rect x="1595" y="915" width="28" height="27" fill="#6f7560"/></g>
<use href="#ph" x="1450" y="887"/><use href="#ph" x="1479" y="887"/><use href="#ph" x="1508" y="887"/><use href="#pht" x="1538" y="887"/>
<use href="#pv" x="1543" y="911"/><use href="#pvg" x="1543" y="942"/><use href="#pvt" x="1381" y="903"/><use href="#pvt" x="1395" y="903"/>
<use href="#pht" x="1564" y="960"/><use href="#pht" x="1598" y="960"/>
<rect x="1543" y="977" width="91" height="75" rx="5" fill="#a6ad9f"/><circle cx="1612" cy="1007" r="8" fill="#555"/>
<g><rect x="1547" y="1057" width="47" height="30" rx="6" fill="#f4f4f0"/><rect x="1556" y="1057" width="29" height="30" fill="#6f7560"/></g>
<use href="#ph" x="1607" y="1060"/>
<!-- below qualcomm row -->
<use href="#ph" x="1000" y="687"/><use href="#pv" x="1036" y="690"/><use href="#pvg" x="1047" y="690"/><use href="#pvt" x="1066" y="690"/><use href="#pv" x="1078" y="690"/><use href="#pvg" x="1132" y="690"/><use href="#pvg" x="1164" y="690"/><use href="#pvg" x="1193" y="690"/><use href="#pvg" x="1232" y="690"/><use href="#ph" x="1252" y="688"/>
<ellipse cx="1282" cy="705" rx="22" ry="28" fill="#141210"/><ellipse cx="1300" cy="737" rx="14" ry="12" fill="#141210"/>
<circle cx="1238" cy="720" r="9" fill="#e3cd8e"/>
<use href="#pvg" x="1296" y="592"/><use href="#pvs" x="1292" y="640"/>

<!-- ============ CONNECTION LINES ============ -->
<g fill="none" stroke-width="2">
<path d="M79,654 V44 H1549 V70" stroke="#0000ff"/>
<path d="M79,732 H1664 V846 H1686 V160 H1582 V70" stroke="#0b4f86"/>
<path d="M204,686 H1549 V170" stroke="#10f0f0"/>
<path d="M79,748 V936 H1636" stroke="#00ff00"/>
<path d="M1646,956 H1715 Q1728,956 1728,940 V137 H1615 V70" stroke="#00ff00"/>
<path d="M1655,919 V936 H1646" stroke="#00ff00"/>
<path d="M191,686 V701 H176" stroke="#10f0f0"/>
</g>
<path d="M980,686 H1212" stroke="#10f0f0" stroke-width="4"/>
<path d="M966,686 L982,679 L982,693 Z" fill="#10f0f0"/>
<!-- markers -->
<circle cx="79" cy="654" r="5" fill="#0000ff"/>
<circle cx="79" cy="669" r="5" fill="#00e000"/>
<circle cx="79" cy="701" r="5" fill="#f09030"/>
<circle cx="79" cy="715" r="5" fill="#0b4f86"/>
<circle cx="79" cy="732" r="4" fill="#f09030" stroke="#0b4f86" stroke-width="2"/>
<g fill="#004" stroke="#00ff00" stroke-width="2"><circle cx="79" cy="748" r="4"/><circle cx="79" cy="764" r="4"/><circle cx="79" cy="779" r="4"/></g>
<rect x="189.5" y="682.5" width="14" height="7" fill="none" stroke="#ffff00" stroke-width="2"/>
<rect x="191" y="697" width="14" height="9" fill="none" stroke="#ff00ff" stroke-width="2"/>
<circle cx="176" cy="701" r="4.5" fill="#10f0f0"/><circle cx="191" cy="701" r="4.5" fill="#10f0f0"/>
<circle cx="1549" cy="70" r="5" fill="#0000ff"/>
<circle cx="1566" cy="70" r="5" fill="#00e000"/>
<circle cx="1549" cy="104" r="5" fill="#f09030"/>
<circle cx="1565" cy="104" r="5" fill="#0b4f86"/>
<circle cx="1549" cy="170" r="5" fill="#10f0f0"/>
<g fill="#f09030" stroke="#0b4f86" stroke-width="2"><circle cx="1582" cy="70" r="4"/><circle cx="1582" cy="87" r="4"/><circle cx="1582" cy="104" r="4"/><circle cx="1582" cy="120" r="4"/><circle cx="1582" cy="137" r="4"/></g>
<g fill="#0000cc" stroke="#00ff00" stroke-width="2"><circle cx="1615" cy="70" r="4"/><circle cx="1615" cy="87" r="4"/><circle cx="1615" cy="104" r="4"/><circle cx="1615" cy="120" r="4"/><circle cx="1615" cy="137" r="4"/></g>
<rect x="1659" y="830" width="10" height="17" fill="none" stroke="#ffff00" stroke-width="2"/>
<rect x="1634" y="932" width="12" height="26" fill="none" stroke="#ffff00" stroke-width="2"/>
<g fill="#0000cc" stroke="#00ff00" stroke-width="2"><circle cx="1640" cy="937" r="3.5"/><circle cx="1640" cy="954" r="3.5"/><circle cx="1655" cy="919" r="3.5"/></g>
<rect x="1641" y="915" width="11" height="8" fill="#fff" stroke="#ff00ff" stroke-width="2"/>

<!-- double arrow -->
<path d="M136,43 H345" stroke="#4466ee" stroke-width="3"/>
<path d="M126,43 L140,36 L140,50 Z M355,43 L341,36 L341,50 Z" fill="#4466ee"/>

<!-- ============ CALLOUTS ============ -->
<rect x="105" y="72" width="271" height="110" rx="9" fill="#fff" stroke="#3f5cf2" stroke-width="4" filter="url(#sh)"/>
<g font-size="20" fill="#000">
<text x="117" y="110" textLength="244" lengthAdjust="spacingAndGlyphs">Các cặp data P N đi thẳng</text>
<text x="137" y="134" textLength="206" lengthAdjust="spacingAndGlyphs">vào USB trong thực tế</text>
<text x="167" y="158" textLength="145" lengthAdjust="spacingAndGlyphs">không thấy đứt.</text>
</g>

<rect x="646" y="60" width="254" height="354" rx="14" fill="#fff" stroke="#f7a900" stroke-width="4" filter="url(#sh)"/>
<text x="718" y="128" font-size="36" fill="#f5a700" textLength="109" lengthAdjust="spacingAndGlyphs">MiiT.vn</text>
<g font-size="20" fill="#000">
<text x="660" y="155" textLength="224" lengthAdjust="spacingAndGlyphs">Nhận sạc mà sạc không</text>
<text x="669" y="179" textLength="206" lengthAdjust="spacingAndGlyphs">vào xem thêm Pic sạc</text>
<text x="666" y="203" textLength="212" lengthAdjust="spacingAndGlyphs">không vào Pin. Trường</text>
<text x="664" y="227" textLength="216" lengthAdjust="spacingAndGlyphs">hợp kèm theo kém cáp,</text>
<text x="660" y="251" textLength="224" lengthAdjust="spacingAndGlyphs">zin không nhận, linh kiện</text>
<text x="684" y="275" textLength="177" lengthAdjust="spacingAndGlyphs">nhận thì thay thẳng</text>
<text x="659" y="298" textLength="225" lengthAdjust="spacingAndGlyphs">U6300. Quan sát kỹ các</text>
<text x="676" y="322" textLength="194" lengthAdjust="spacingAndGlyphs">cuộn dây ô vàng mụt</text>
<text x="658" y="346" textLength="229" lengthAdjust="spacingAndGlyphs">hoặc bung thì có thể câu</text>
<text x="738" y="370" textLength="69" lengthAdjust="spacingAndGlyphs">tắt qua.</text>
</g>

<rect x="1336.5" y="208.5" width="195" height="185" rx="12" fill="#fff" stroke="#f56a12" stroke-width="5" filter="url(#sh)"/>
<g font-size="24" fill="#000">
<text x="1347" y="239" textLength="171" lengthAdjust="spacingAndGlyphs">Tháo USB dòng</text>
<text x="1343" y="266" textLength="181" lengthAdjust="spacingAndGlyphs">hết cao, thay vào</text>
<text x="1354" y="293" textLength="158" lengthAdjust="spacingAndGlyphs">lại cao thì kiểm</text>
<text x="1369" y="320" textLength="128" lengthAdjust="spacingAndGlyphs">tra tụ ô cam</text>
<text x="1358" y="347" textLength="151" lengthAdjust="spacingAndGlyphs">chạm thì thay,</text>
<text x="1351" y="373" textLength="164" lengthAdjust="spacingAndGlyphs">không được bỏ</text>
</g>

<rect x="814.5" y="569.5" width="303" height="100" rx="9" fill="#fff" stroke="#19e6f2" stroke-width="5" filter="url(#sh)"/>
<g font-size="20" fill="#000">
<text x="839" y="590" textLength="253" lengthAdjust="spacingAndGlyphs">Khi gắn một cái gì vào đuôi</text>
<text x="824" y="614" textLength="282" lengthAdjust="spacingAndGlyphs">sạc đường này giúp máy nhận</text>
<text x="830" y="637" textLength="269" lengthAdjust="spacingAndGlyphs">biết có một thiết bị gì đó cắm</text>
<text x="945" y="661" textLength="39" lengthAdjust="spacingAndGlyphs">vào.</text>
</g>

<rect x="748.5" y="758.5" width="421" height="150" rx="14" fill="#fff" stroke="#f5650f" stroke-width="5" filter="url(#sh)"/>
<g font-size="20" fill="#000">
<text x="770" y="792" textLength="377" lengthAdjust="spacingAndGlyphs">Cổng sạc đối xứng gắn được cả hai mặt</text>
<text x="775" y="816" textLength="366" lengthAdjust="spacingAndGlyphs">và 2 đường này giúp phân biệt mặt nào</text>
<text x="768" y="840" textLength="381" lengthAdjust="spacingAndGlyphs">đang tiếp xúc với cáp. Nếu một mặt nhận</text>
<text x="763" y="864" textLength="389" lengthAdjust="spacingAndGlyphs">một mặt không nhận thì kiểm tra một trong</text>
<text x="798" y="888" textLength="319" lengthAdjust="spacingAndGlyphs">hai đường hoặc lỗi IC USB U6300</text>
</g>

<!-- ============ LABELS ============ -->
<text x="1557" y="55" font-size="32" fill="#ff0000" textLength="95" lengthAdjust="spacingAndGlyphs">U6300</text>
<text x="1472" y="82" font-size="33" fill="#ff0000" textLength="33" lengthAdjust="spacingAndGlyphs">A1</text>
<text x="87" y="432" font-size="31" fill="#ff0000" textLength="85" lengthAdjust="spacingAndGlyphs">J6400</text>
<text x="456" y="661" font-size="32" fill="#18e8f2" textLength="345" lengthAdjust="spacingAndGlyphs">HYDRA_CON_DETECT</text>
<text x="1240" y="781" font-size="36" font-weight="bold" fill="#f57a20" stroke="#1a4aa8" stroke-width="3.5" stroke-linejoin="round" paint-order="stroke" textLength="275" lengthAdjust="spacingAndGlyphs">PP_HYDRA_ACC1</text>
<text x="1232" y="986" font-size="36" font-weight="bold" fill="#2030ff" stroke="#00ff00" stroke-width="3.5" stroke-linejoin="round" paint-order="stroke" textLength="278" lengthAdjust="spacingAndGlyphs">PP_HYDRA_ACC2</text>
<text x="1560" y="1093" font-size="29" font-weight="bold" fill="#ffeaa5" stroke="#e39a2c" stroke-width="3" stroke-linejoin="round" paint-order="stroke" textLength="123" lengthAdjust="spacingAndGlyphs">ICFix Team</text>
<text x="1545" y="1120" font-size="29" font-weight="bold" fill="#ffeaa5" stroke="#e39a2c" stroke-width="3" stroke-linejoin="round" paint-order="stroke" textLength="154" lengthAdjust="spacingAndGlyphs">MiiT Solutions</text>
</svg>
</body></html>
